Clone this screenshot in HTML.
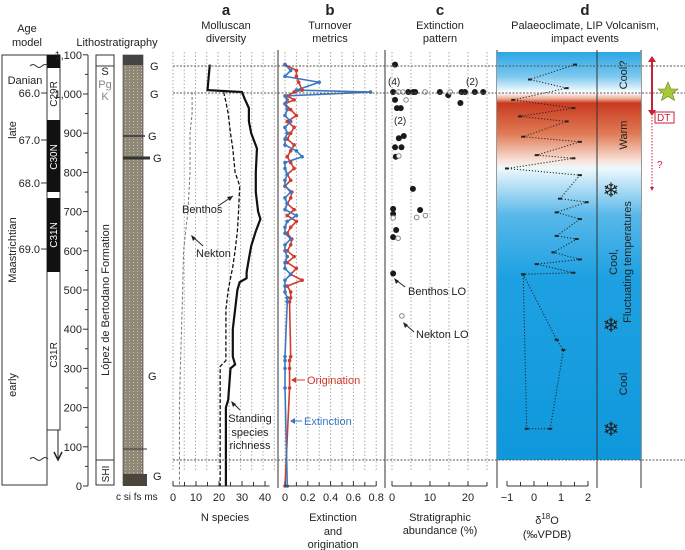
<!DOCTYPE html>
<html><head><meta charset="utf-8"><style>
body{margin:0;background:#fff}
svg{display:block;font-family:"Liberation Sans",sans-serif}
text{fill:#222}
</style></head><body>
<svg id="fig" width="685" height="550" viewBox="0 0 685 550" xmlns="http://www.w3.org/2000/svg">
<defs>
<linearGradient id="clim" x1="0" y1="52" x2="0" y2="460" gradientUnits="userSpaceOnUse">
<stop offset="0" stop-color="#2aa6e4"/>
<stop offset="0.06" stop-color="#7cc8ef"/>
<stop offset="0.1" stop-color="#ffffff"/>
<stop offset="0.115" stop-color="#e8a890"/>
<stop offset="0.125" stop-color="#c83a20"/>
<stop offset="0.2" stop-color="#e07a55"/>
<stop offset="0.265" stop-color="#f8e0d6"/>
<stop offset="0.285" stop-color="#eef8fd"/>
<stop offset="0.4" stop-color="#58b8ea"/>
<stop offset="0.55" stop-color="#1ea1e2"/>
<stop offset="1" stop-color="#0f98dc"/>
</linearGradient>
<pattern id="litho" width="4" height="3" patternUnits="userSpaceOnUse">
<rect width="4" height="3" fill="#8f8877"/><rect x="1" y="1" width="1" height="1" fill="#c9c3b2"/>
</pattern>
</defs>

<g font-size="11" text-anchor="middle">
<text x="27" y="32">Age</text><text x="27" y="46">model</text>
<text x="117" y="46">Lithostratigraphy</text>
<text x="226" y="15" font-size="15" font-weight="bold">a</text>
<text x="226" y="29">Molluscan</text><text x="226" y="42">diversity</text>
<text x="330" y="15" font-size="15" font-weight="bold">b</text>
<text x="330" y="29">Turnover</text><text x="330" y="42">metrics</text>
<text x="440" y="15" font-size="15" font-weight="bold">c</text>
<text x="440" y="29">Extinction</text><text x="440" y="42">pattern</text>
<text x="585" y="15" font-size="15" font-weight="bold">d</text>
<text x="585" y="29">Palaeoclimate, LIP Volcanism,</text><text x="585" y="42">impact events</text>
</g>

<g font-size="11">
<rect x="2" y="55" width="45" height="430" fill="none" stroke="#333"/>
<rect x="47" y="55" width="13" height="375" fill="#fff" stroke="#333"/>
<rect x="47" y="55" width="13" height="13" fill="#111"/>
<rect x="47" y="120" width="13" height="72" fill="#111"/>
<rect x="47" y="198" width="13" height="74" fill="#111"/>
<line x1="58" y1="430" x2="58" y2="458" stroke="#222"/>
<path d="M54,452 L58,460 L62,452" fill="none" stroke="#222" stroke-width="1.5"/>
<path d="M30,66 q3,-3 6,0 t6,0 t6,0" fill="none" stroke="#333"/>
<path d="M30,459 q3,-3 6,0 t6,0 t6,0" fill="none" stroke="#333"/>
<text x="25" y="84" text-anchor="middle">Danian</text>
<text x="40" y="97" text-anchor="end">66.0</text><line x1="41" y1="93" x2="47" y2="93" stroke="#333"/>
<text x="40" y="144" text-anchor="end">67.0</text><line x1="41" y1="140" x2="47" y2="140" stroke="#333"/>
<text x="40" y="187" text-anchor="end">68.0</text><line x1="41" y1="183" x2="47" y2="183" stroke="#333"/>
<text x="40" y="253" text-anchor="end">69.0</text><line x1="41" y1="249" x2="47" y2="249" stroke="#333"/>
<text transform="translate(16,130) rotate(-90)" text-anchor="middle">late</text>
<text transform="translate(16,250) rotate(-90)" text-anchor="middle">Maastrichtian</text>
<text transform="translate(16,385) rotate(-90)" text-anchor="middle">early</text>
<text transform="translate(57,94) rotate(-90)" text-anchor="middle" font-size="10">C29R</text>
<text transform="translate(57,157) rotate(-90)" text-anchor="middle" font-size="10" style="fill:#fff">C30N</text>
<text transform="translate(57,235) rotate(-90)" text-anchor="middle" font-size="10" style="fill:#fff">C31N</text>
<text transform="translate(57,355) rotate(-90)" text-anchor="middle" font-size="10">C31R</text>
</g>

<g font-size="11">
<line x1="88" y1="55" x2="88" y2="486" stroke="#333"/>
<g id="lithoTicks"></g>
<rect x="96" y="55" width="18" height="430" fill="#fff" stroke="#333"/>
<line x1="96" y1="66" x2="114" y2="66" stroke="#333"/>
<line x1="96" y1="460" x2="114" y2="460" stroke="#333"/>
<text x="105" y="75" text-anchor="middle">S</text>
<text x="105" y="88" text-anchor="middle" style="fill:#888">Pg</text>
<text x="105" y="100" text-anchor="middle" style="fill:#888">K</text>
<text transform="translate(109,300) rotate(-90)" text-anchor="middle">López de Bertodano Formation</text>
<text transform="translate(109,474) rotate(-90)" text-anchor="middle" font-size="10">SHI</text>
<rect x="123" y="55" width="20" height="430" fill="url(#litho)" stroke="#333" stroke-width="0.6"/>
<rect x="123" y="55" width="20" height="10" fill="#444"/>
<rect x="123" y="474" width="24" height="12" fill="#4a463c"/>
<line x1="123" y1="158" x2="150" y2="158" stroke="#333" stroke-width="3"/>
<line x1="123" y1="136" x2="145" y2="136" stroke="#333" stroke-width="1.5"/>
<line x1="123" y1="449" x2="147" y2="449" stroke="#333"/>
<text x="150" y="70">G</text><text x="150" y="98">G</text><text x="148" y="140">G</text>
<text x="153" y="162">G</text><text x="148" y="380">G</text><text x="153" y="480">G</text>
<text x="116" y="500" font-size="10">c si fs ms</text>
</g>

<g stroke="#333">
<line x1="278" y1="50" x2="278" y2="488"/>
<line x1="385" y1="50" x2="385" y2="488"/>
<line x1="497" y1="50" x2="497" y2="488"/>
<line x1="597" y1="50" x2="597" y2="488"/>
<line x1="641" y1="50" x2="641" y2="488"/>
</g>
<rect x="497" y="52" width="144" height="408" fill="url(#clim)"/>
<line x1="597" y1="52" x2="597" y2="460" stroke="#333"/>

<g id="grid"></g>
<g id="marks"></g>

<g stroke="#555" stroke-dasharray="2,1.5">
<line x1="173" y1="66" x2="685" y2="66"/>
<line x1="173" y1="93" x2="685" y2="93"/>
<line x1="173" y1="460" x2="685" y2="460"/>
</g>

<g font-size="11">
<text x="182" y="213">Benthos</text>
<line x1="218" y1="206" x2="233" y2="196" stroke="#222"/><path d="M233,196 l-6,1 l3,4z" fill="#222"/>
<text x="196" y="257">Nekton</text>
<line x1="203" y1="246" x2="192" y2="236" stroke="#222"/><path d="M191,235 l2,6 l3,-3z" fill="#222"/>
<text x="250" y="422" text-anchor="middle">Standing</text>
<text x="250" y="436" text-anchor="middle">species</text>
<text x="250" y="449" text-anchor="middle">richness</text>
<line x1="240" y1="410" x2="232" y2="402" stroke="#222"/><path d="M231,401 l2,6 l3,-3z" fill="#222"/>
<text x="307" y="384" style="fill:#d33a2c">Origination</text>
<line x1="293" y1="380" x2="305" y2="380" stroke="#d33a2c"/><path d="M291,380 l5,-3 v6z" fill="#d33a2c"/>
<text x="304" y="425" style="fill:#3a78c0">Extinction</text>
<line x1="292" y1="421" x2="302" y2="421" stroke="#3a78c0"/><path d="M290,421 l5,-3 v6z" fill="#3a78c0"/>
<text x="388" y="85" font-size="10">(4)</text>
<text x="466" y="85" font-size="10">(2)</text>
<text x="394" y="124" font-size="10">(2)</text>
<text x="408" y="295">Benthos LO</text>
<line x1="405" y1="287" x2="396" y2="280" stroke="#222"/><path d="M394,278 l2,6 l3,-3z" fill="#222"/>
<text x="416" y="338">Nekton LO</text>
<line x1="414" y1="332" x2="405" y2="324" stroke="#222"/><path d="M403,322 l2,6 l3,-3z" fill="#222"/>
<text transform="translate(627,75) rotate(-90)" text-anchor="middle">Cool?</text>
<text transform="translate(627,135) rotate(-90)" text-anchor="middle">Warm</text>
<text transform="translate(617,262) rotate(-90)" text-anchor="middle">Cool,</text>
<text transform="translate(631,262) rotate(-90)" text-anchor="middle">Fluctuating temperatures</text>
<text transform="translate(627,384) rotate(-90)" text-anchor="middle">Cool</text>
<text x="611" y="197" font-size="20" text-anchor="middle">❄</text>
<text x="611" y="332" font-size="20" text-anchor="middle">❄</text>
<text x="611" y="436" font-size="20" text-anchor="middle">❄</text>
<line x1="652" y1="58" x2="652" y2="113" stroke="#c8203a" stroke-width="2"/>
<path d="M648,62 l4,-6 l4,6z" fill="#c8203a"/>
<path d="M648,110 l4,6 l4,-6z" fill="#c8203a"/>
<line x1="652" y1="117" x2="652" y2="190" stroke="#c8203a" stroke-dasharray="1.5,1.5"/>
<path d="M650,187 l2,4 l2,-4z" fill="#c8203a"/>
<rect x="655" y="112" width="19" height="11" fill="#fff" stroke="#c8203a"/>
<text x="657" y="121" font-size="10" style="fill:#c8203a">DT</text>
<text x="657" y="168" font-size="10" style="fill:#c8203a">?</text>
<path d="M668,82 l3,7 l7,0 l-5.5,4.5 l2,7 l-6.5,-4 l-6.5,4 l2,-7 l-5.5,-4.5 l7,0z" fill="#a8c83a" stroke="#6a8020" stroke-width="0.6"/>
</g>

<g font-size="11" text-anchor="middle">
<text x="225" y="521">N species</text>
<text x="333" y="521">Extinction</text><text x="333" y="535">and</text><text x="333" y="548">origination</text>
<text x="440" y="521">Stratigraphic</text><text x="440" y="534">abundance (%)</text>
<text x="547" y="524">δ<tspan font-size="8" dy="-5">18</tspan><tspan dy="5">O</tspan></text>
<text x="547" y="538">(‰VPDB)</text>
</g>

<script>
// ---- data ----
const lithoTicks = [0,100,200,300,400,500,600,700,800,900,1000,1100];
const divDepth = [1075,1010,1005,990,964,930,900,861,800,750,700,681,650,612,580,545,530,520,500,450,400,330,310,300,220,200,100,0];
const richness = [16,15,30,31,33,33,34,36.5,36,36,37,38,36,34,33,32,32,29,28,27,26,26,27,25,24,23,23,23];
const benthDepth = [1005,980,950,900,860,800,766,700,650,600,560,500,450,400,320,305,200,0];
const benthos = [22,23,24,25,26,27,29,28.5,28,27,26,24,23,23,23,20.5,20.5,20.5];
const nektDepth = [1005,950,900,800,700,650,600,500,400,300,200,0];
const nekton = [8.3,8.3,7.4,7.4,6.5,5.5,4.6,4.2,3.7,3.2,2.8,2.8];
const aTicks = [0,10,20,30,40];
const turnDepth = [1075,1060,1045,1030,1010,1005,995,985,975,960,945,930,915,900,885,870,855,840,825,810,795,780,765,750,735,720,705,690,675,660,645,630,615,600,585,570,555,540,525,510,495,480,470,330,320,300,250,0];
const extinction = [0,0.05,0,0.3,0.1,0.75,0,0.02,0,0.02,0,0.05,0,0.02,0,0,0.1,0.15,0,0,0.02,0,0,0.05,0,0.02,0,0.1,0.02,0,0,0.05,0,0,0.02,0,0,0.05,0,0,0,0.02,0.02,0,0,0,0,0.02];
const origination = [0,0.1,0.1,0.12,0.15,0.08,0.02,0.08,0,0.05,0.1,0.02,0.08,0.05,0.02,0.08,0.05,0.02,0.05,0.08,0.02,0.05,0,0.06,0.05,0.02,0.08,0.02,0.1,0.05,0.02,0.06,0.05,0.02,0.08,0.02,0.1,0.05,0.15,0.02,0.05,0.05,0.04,0.05,0.04,0.04,0.04,0];
const bTicks = [0,0.2,0.4,0.6,0.8];
const benthLODepth = [1075,1005,1005,1005,1005,1005,1005,1005,1005,1005,997,985,977,964,964,887,893,864,864,840,758,707,694,704,653,635,542];
const benthLO = [0.8,0.3,4.3,5.6,6.1,12.6,18.3,19.2,21.8,24,14.8,0.8,18,1.3,2.3,1.8,3.1,0.8,2.5,1,5.5,0.3,0.3,7.4,1.1,0.3,0.3];
const nektLODepth = [1005,1005,1005,1005,985,842,684,685,690,632,434];
const nektLO = [1.7,2.9,8.7,15.3,3.7,1.8,0.3,6.5,8.8,1.6,2.6];
const cTicks = [0,10,20];
const d18Depth = [1075,1037,1015,985,964,943,930,891,878,844,836,810,793,733,724,698,681,638,630,596,578,566,544,540,373,347,146,146,540];
const d18O = [1.52,-0.15,1.21,-0.77,1.46,-0.52,1.21,-0.4,1.7,0.1,1.46,-1.0,1.7,0.96,1.95,0.84,1.7,0.84,1.58,0.72,1.7,0.1,1.46,-0.4,0.84,1.09,0.6,-0.27,-0.4];
const dTicks = [-1,0,1,2];

// ---- scales ----
const yS = m => 486 - m*0.392;
const xA = v => 173 + v*2.3;
const xB = v => 285 + v*114;
const xC = v => 392 + v*3.8;
const xD = v => 507 + (v+1)*27;
const NS = 'http://www.w3.org/2000/svg';
function mk(parent, tag, attrs){const e=document.createElementNS(NS,tag);for(const k in attrs)e.setAttribute(k,attrs[k]);parent.appendChild(e);return e;}
const marks = document.getElementById('marks');
const grid = document.getElementById('grid');
const lt = document.getElementById('lithoTicks');

lithoTicks.forEach(m=>{
  const l = mk(lt,'line',{x1:83,x2:88,y1:yS(m),y2:yS(m),stroke:'#333'});
  
  
  const t = mk(lt,'text',{x:82,y:yS(m)+4,'text-anchor':'end','font-size':11});
  
  
  t.textContent = m>=1000 ? (m/1000|0)+','+String(m%1000).padStart(3,'0') : m;
});
for(let m=50;m<1100;m+=100){mk(lt,'line',{x1:85,x2:88,y1:yS(m),y2:yS(m),stroke:'#333'});}

function vgrid(xs){xs.forEach(x=>{const g=mk(grid,'line',{x1:x,x2:x,y1:52,y2:470,stroke:'#aaa','stroke-dasharray':'1.5,2'});});}
vgrid([0,5,10,15,20,25,30,35,40,45].map(v=>173+v*2.25));
vgrid([0,0.1,0.2,0.3,0.4,0.5,0.6,0.7,0.8].map(xB));
vgrid([0,5,10,15,20,25].map(xC));

function axis(name,x1,x2,ticks,fx,minor,fmt){
  const g=mk(document.getElementById('fig'),'g',{});
  
  
  mk(g,'line',{x1:x1,x2:x2,y1:486,y2:486,stroke:'#333'});
  minor.forEach(v=>mk(g,'line',{x1:fx(v),x2:fx(v),y1:486,y2:482,stroke:'#333'}));
  ticks.forEach(v=>{mk(g,'line',{x1:fx(v),x2:fx(v),y1:486,y2:481,stroke:'#333'});const t=mk(g,'text',{x:fx(v),y:501,'text-anchor':'middle','font-size':11});t.textContent=fmt(v);});
}
axis('x-axis-a',xA(0),xA(42),aTicks,xA,[5,15,25,35],v=>v);
axis('x-axis-b',xB(0),xB(0.8),bTicks,xB,[0.1,0.3,0.5,0.7],v=>v);
axis('x-axis-c',xC(0),xC(25),cTicks,xC,[5,15,25],v=>v);
axis('x-axis-d',xD(-1),xD(2),dTicks,xD,[-0.5,0.5,1.5],v=>v<0?'−'+(-v):v);

function line(name,xs,ys,fx,style){
  const p=xs.map((v,i)=>fx(v)+','+yS(ys[i])).join(' ');
  const e=mk(marks,'polyline',Object.assign({points:p,fill:'none'},style));
  
  
}
line('standing-richness-line',richness,divDepth,xA,{stroke:'#111','stroke-width':2.2});
line('benthos-line',benthos,benthDepth,xA,{stroke:'#111','stroke-width':1.3,'stroke-dasharray':'4,2'});
line('nekton-line',nekton,nektDepth,xA,{stroke:'#777','stroke-width':1,'stroke-dasharray':'3,2'});
line('origination-line',origination,turnDepth,xB,{stroke:'#d33a2c','stroke-width':1.6});
line('extinction-line',extinction,turnDepth,xB,{stroke:'#3a78c0','stroke-width':1.6});
turnDepth.forEach((m,i)=>{
  const a=mk(marks,'circle',{cx:xB(origination[i]),cy:yS(m),r:1.8,fill:'#d33a2c'});
  
  
  const b=mk(marks,'circle',{cx:xB(extinction[i]),cy:yS(m),r:1.8,fill:'#3a78c0'});
  
  
});
benthLODepth.forEach((m,i)=>{
  const c=mk(marks,'circle',{cx:xC(benthLO[i]),cy:yS(m),r:3,fill:'#1a1a1a'});
  
  
});
nektLODepth.forEach((m,i)=>{
  const c=mk(marks,'circle',{cx:xC(nektLO[i]),cy:yS(m),r:2.3,fill:'#fff',stroke:'#888','stroke-width':1});
  
  
});
line('d18o-line',d18O,d18Depth,xD,{stroke:'#222','stroke-width':1,'stroke-dasharray':'1.2,1.8'});
d18Depth.forEach((m,i)=>{
  const r=mk(marks,'rect',{x:xD(d18O[i])-2,y:yS(m)-1,width:4,height:2,fill:'#222'});
  
  
});
</script>
</svg>
</body></html>
